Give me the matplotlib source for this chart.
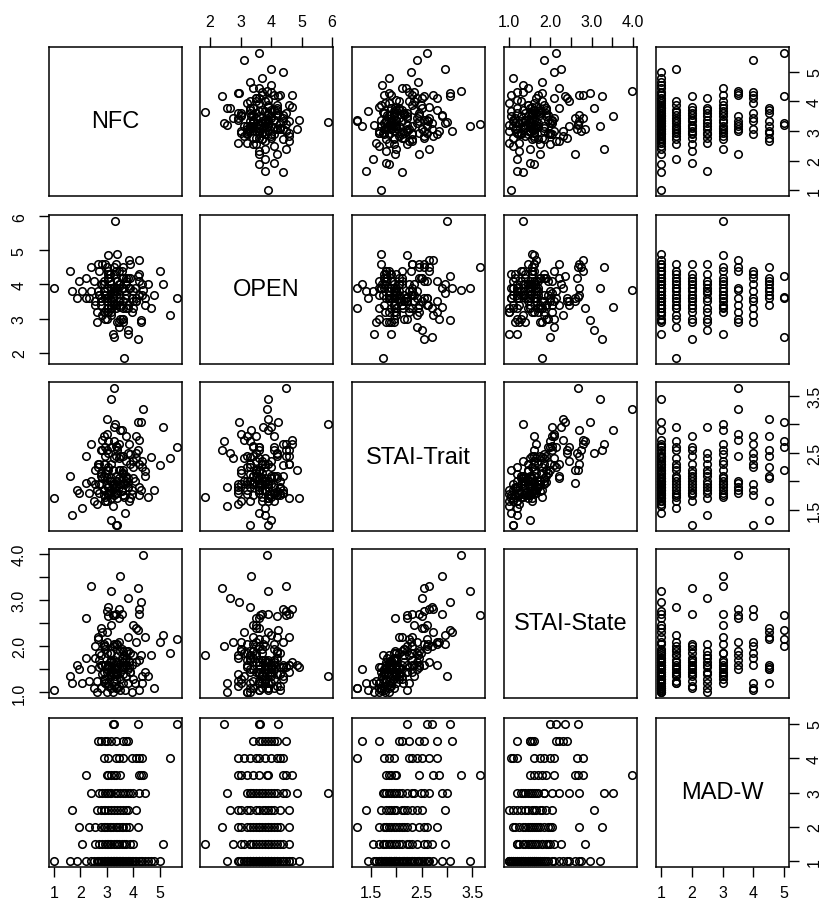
import numpy as np
import matplotlib.pyplot as plt

plt.rcParams['font.family'] = ['Liberation Sans', 'DejaVu Sans']

names = ['NFC', 'OPEN', 'STAI-Trait', 'STAI-State', 'MAD-W']

# values, grouped by MAD-W level (5, 4.5, ... 1)
nfc = [5.65, 4.17, 3.22, 3.28,
       3.00, 3.72, 2.78, 3.61, 2.67, 3.33, 3.78, 2.94, 3.17,
       3.06, 4.11, 3.44, 5.39, 2.89, 4.33, 3.61, 3.94, 4.22, 3.33,
       3.25, 4.35, 3.00, 4.22, 3.50, 2.22, 3.33, 4.28, 3.06, 3.17,
       3.30, 2.39, 3.89, 3.50, 4.22, 3.06, 4.44, 2.83, 3.67, 3.78,
       3.11, 2.72, 3.61, 3.17, 2.94, 4.00, 3.39, 3.00,
       3.28, 3.78, 2.94, 3.61, 2.89, 3.72, 3.06, 3.39, 3.17, 1.67, 2.61, 4.11, 3.50, 2.78,
       2.89, 4.17, 3.33, 3.00, 3.56, 2.78, 3.72, 3.11, 2.56, 3.44,
       3.22, 1.94, 2.33, 3.39, 3.17, 3.61, 2.94, 3.83,
       5.11, 3.65, 3.06, 2.83, 3.44, 3.89, 2.56, 3.72, 3.17, 2.72,
       3.56, 3.28, 2.94, 2.06, 3.39, 3.00, 3.33, 4.00, 3.11,
       1.00, 1.61, 1.89, 2.22, 2.39, 2.61, 2.67, 2.78, 2.83, 2.89,
       2.94, 3.00, 3.00, 3.06, 3.06, 3.11, 3.17, 3.17, 3.22, 3.28,
       3.28, 3.33, 3.33, 3.39, 3.44, 3.50, 3.56, 3.56, 3.61, 3.67,
       3.72, 3.78, 3.83, 3.94, 4.00, 4.11, 4.22, 4.28, 4.44, 4.56,
       4.67, 4.78, 5.00, 3.39,
       3.22, 3.44, 2.89, 3.61, 3.06, 3.78, 2.72, 3.33, 4.06, 3.17,
       2.50, 3.50, 3.89, 2.94, 3.28, 4.33]

open_ = [3.60, 4.24, 3.64, 2.46,
         3.90, 4.10, 3.60, 4.50, 3.80, 3.40, 4.20, 3.70, 4.00,
         4.20, 3.50, 4.40, 3.10, 3.80, 4.00, 2.90, 3.60, 4.30, 3.30,
         4.50, 3.85, 3.00, 4.70, 3.40, 3.60, 3.90, 2.90, 4.40, 3.20,
         5.87, 4.50, 4.20, 3.35, 3.70, 4.85, 3.40, 4.00, 3.80, 2.55,
         3.60, 4.40, 3.90, 3.30, 3.70, 3.50, 4.10, 3.20,
         3.75, 2.65, 4.60, 3.00, 4.10, 3.30, 4.30, 2.90, 3.90, 3.80, 3.20, 3.60, 4.00, 3.50,
         3.20, 2.40, 4.60, 3.50, 3.00, 4.00, 3.70, 4.30, 3.40, 2.90,
         3.80, 4.10, 3.60, 3.90, 3.30, 4.20, 3.60, 3.90,
         4.00, 1.83, 3.30, 4.60, 2.75, 3.90, 3.50, 4.20, 3.10, 3.70,
         4.40, 3.40, 3.00, 3.80, 4.10, 3.60, 3.90, 3.30, 4.30,
         3.90, 4.40, 3.60, 4.20, 3.80, 2.90, 4.60, 3.40, 3.10, 4.00,
         3.70, 3.30, 4.50, 3.60, 3.20, 4.10, 3.90, 3.50, 2.55, 3.80,
         4.30, 3.40, 3.70, 4.90, 3.50, 3.00, 3.90, 4.20, 3.30, 3.60,
         4.00, 3.40, 4.70, 3.20, 3.80, 3.50, 4.10, 2.95, 3.60, 4.00,
         3.30, 3.70, 4.40, 3.80,
         3.60, 4.00, 3.80, 3.50, 4.20, 3.30, 3.70, 4.40, 3.90, 3.40,
         4.10, 3.60, 4.60, 3.20, 3.90, 3.70]

trait = [2.60, 3.05, 2.20, 2.70,
         3.10, 2.80, 2.55, 2.45, 2.25, 2.10, 2.05, 1.65, 1.32,
         2.50, 2.80, 2.65, 2.40, 2.30, 2.25, 1.95, 1.85, 1.75, 1.22,
         3.65, 3.27, 2.84, 2.72, 2.45, 1.97, 1.90, 1.85, 1.80, 2.00,
         3.00, 2.65, 2.48, 2.90, 2.30, 2.20, 2.10, 2.05, 1.95, 1.90,
         1.85, 1.80, 1.75, 2.00, 1.73, 2.35, 2.55, 1.95,
         2.95, 2.50, 2.30, 2.20, 2.10, 2.00, 1.90, 1.80, 1.70, 1.40, 1.85, 2.40, 1.95, 2.15,
         2.80, 2.55, 2.45, 2.20, 2.15, 2.10, 2.05, 2.00, 1.95, 1.90,
         1.85, 1.80, 1.80, 1.22, 2.30, 1.75, 2.60, 1.65,
         2.95, 1.73, 2.70, 2.55, 2.40, 2.30, 2.20, 2.10, 2.00, 1.95,
         1.85, 1.75, 1.65, 1.53, 2.60, 2.05, 1.90, 2.25, 1.80,
         1.70, 2.10, 1.85, 2.45, 2.00, 1.60, 2.30, 1.95, 2.72, 1.75,
         2.15, 1.65, 2.55, 1.90, 2.25, 1.80, 3.45, 2.05, 1.56, 2.40,
         1.88, 2.62, 2.00, 1.70, 2.20, 1.95, 2.90, 1.82, 2.12, 1.44,
         2.35, 1.98, 2.65, 1.78, 2.05, 2.50, 1.90, 3.05, 2.18, 1.72,
         2.42, 1.85, 2.28, 2.00,
         1.95, 2.05, 1.85, 2.15, 1.75, 1.90, 2.30, 1.80, 2.00, 2.60,
         1.65, 2.20, 1.70, 2.45, 1.95, 2.35]

state = [2.15, 2.35, 2.67, 2.00,
         2.30, 1.60, 2.40, 1.55, 2.15, 1.50, 2.20, 1.20, 1.50,
         2.65, 2.10, 2.80, 1.85, 2.00, 1.20, 1.75, 1.60, 1.05, 1.10,
         2.67, 3.98, 2.10, 2.80, 1.90, 2.60, 1.50, 1.80, 1.60, 1.70,
         1.35, 3.30, 1.85, 3.52, 2.70, 1.60, 2.20, 1.40, 1.70, 1.20,
         1.65, 1.55, 1.50, 1.45, 1.30, 2.45, 2.05, 1.85,
         2.05, 3.05, 1.60, 1.90, 1.30, 1.75, 1.55, 1.40, 1.10, 1.20, 1.00, 1.65, 1.45, 1.80,
         2.05, 3.25, 2.70, 1.45, 1.95, 1.60, 1.35, 1.85, 1.75, 1.15,
         1.65, 1.50, 1.25, 1.10, 1.70, 1.40, 2.00, 1.55,
         2.25, 1.80, 2.85, 1.60, 2.10, 1.45, 2.00, 1.90, 1.35, 1.70,
         1.55, 1.25, 1.20, 1.20, 1.95, 1.50, 1.65, 1.80, 1.40,
         1.05, 1.35, 1.60, 1.75, 1.50, 1.25, 2.20, 1.10, 2.30, 1.45,
         1.95, 1.00, 2.75, 1.20, 1.55, 1.65, 3.20, 1.85, 1.00, 1.50,
         1.15, 2.05, 1.40, 1.55, 2.60, 1.30, 2.70, 1.75, 1.20, 1.05,
         1.60, 1.90, 1.65, 1.00, 1.30, 2.40, 1.70, 2.95, 1.45, 1.35,
         1.80, 1.10, 2.10, 1.60,
         1.40, 1.55, 1.25, 1.65, 1.15, 1.50, 1.85, 1.30, 1.20, 2.45,
         1.10, 1.05, 1.45, 1.60, 1.70, 1.35]

mad_levels = [5.0, 4.5, 4.0, 3.5, 3.0, 2.5, 2.0, 1.5, 1.0]
mad_counts = [4, 9, 10, 10, 18, 14, 18, 19, 60]
madw = np.repeat(mad_levels, mad_counts)

data = [np.array(nfc), np.array(open_), np.array(trait), np.array(state), madw]

ticks = [[1, 2, 3, 4, 5],
         [2, 3, 4, 5, 6],
         [1.5, 2.0, 2.5, 3.0, 3.5],
         [1.0, 1.5, 2.0, 2.5, 3.0, 3.5, 4.0],
         [1, 2, 3, 4, 5]]
tick_labels = [['1', '2', '3', '4', '5'],
               ['2', '3', '4', '5', '6'],
               ['1.5', '', '2.5', '', '3.5'],
               ['1.0', '', '2.0', '', '3.0', '', '4.0'],
               ['1', '2', '3', '4', '5']]

W, H = 821, 903
lefts = [49, 200, 352, 504, 656]
tops = [48, 216, 383, 550, 719]
pw, ph = 133, 149

lims = []
for d in data:
    lo, hi = d.min(), d.max()
    r = hi - lo
    lims.append((lo - 0.04 * r, hi + 0.04 * r))

fig = plt.figure(figsize=(W / 100, H / 100), dpi=100)

for i in range(5):
    for j in range(5):
        ax = fig.add_axes([lefts[j] / W, 1 - (tops[i] + ph) / H, pw / W, ph / H])
        ax.set_xlim(lims[j])
        ax.set_ylim(lims[i])
        for s in ax.spines.values():
            s.set_linewidth(1.1)
        if i == j:
            ax.text(0.5, 0.5, names[i], transform=ax.transAxes, ha='center',
                    va='center', fontsize=17)
        else:
            ax.plot(data[j], data[i], 'o', mfc='none', mec='black', ms=5.4, mew=1.15)
        ax.set_xticks([])
        ax.set_yticks([])
        if i == 0 and j % 2 == 1:
            ax.set_xticks(ticks[j])
            ax.set_xticklabels(tick_labels[j])
            ax.tick_params(axis='x', top=True, bottom=False, labeltop=True,
                           labelbottom=False, length=7, width=1.0, pad=6, labelsize=11.5)
        if i == 4 and j % 2 == 0:
            ax.set_xticks(ticks[j])
            ax.set_xticklabels(tick_labels[j])
            ax.tick_params(axis='x', length=7, width=1.0, pad=6, labelsize=11.5)
        if j == 0 and i % 2 == 1:
            ax.set_yticks(ticks[i])
            ax.set_yticklabels(tick_labels[i], rotation=90, va='center')
            ax.tick_params(axis='y', length=7, width=1.0, pad=9, labelsize=11.5)
        if j == 4 and i % 2 == 0:
            ax.set_yticks(ticks[i])
            ax.set_yticklabels(tick_labels[i], rotation=90, va='center')
            ax.tick_params(axis='y', left=False, right=True, labelleft=False,
                           labelright=True, length=7, width=1.0, pad=6, labelsize=11.5)

fig.savefig('out.png', dpi=100)
